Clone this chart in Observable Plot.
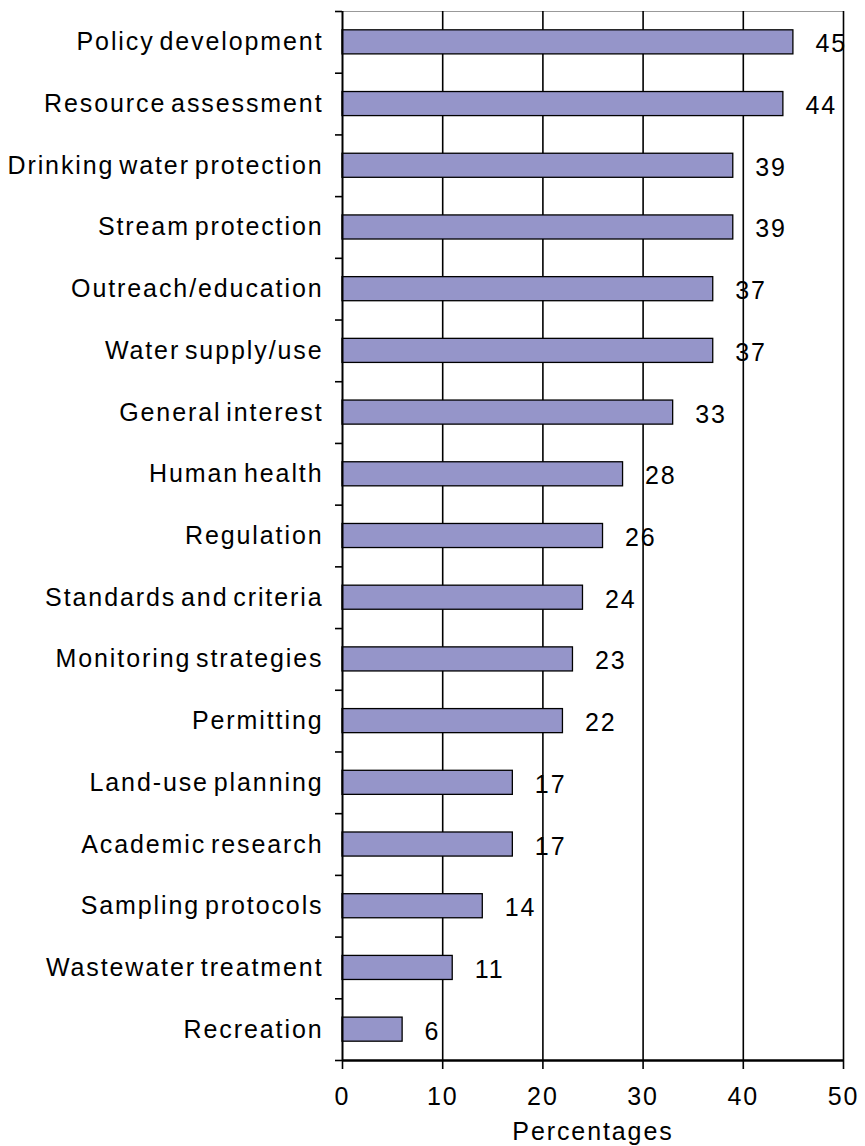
<!DOCTYPE html>
<html><head><meta charset="utf-8">
<script src="https://cdn.jsdelivr.net/npm/d3@7"></script>
<script src="https://cdn.jsdelivr.net/npm/@observablehq/plot@0.6"></script>
<style>html,body{margin:0;padding:0;background:#fff} svg{display:block} svg text{word-spacing:-4px}</style>
</head><body><div id="chart"></div>
<script>
const categories = [
  "Policy development",
  "Resource assessment",
  "Drinking water protection",
  "Stream protection",
  "Outreach/education",
  "Water supply/use",
  "General interest",
  "Human health",
  "Regulation",
  "Standards and criteria",
  "Monitoring strategies",
  "Permitting",
  "Land-use planning",
  "Academic research",
  "Sampling protocols",
  "Wastewater treatment",
  "Recreation"
];
const values = [45, 44, 39, 39, 37, 37, 33, 28, 26, 24, 23, 22, 17, 17, 14, 11, 6];
const xTicks = [0, 10, 20, 30, 40, 50];
const xLabel = "Percentages";

const data = categories.map((c, i) => ({category: c, value: values[i], i}));
const n = categories.length;
const boundaries = d3.range(n + 1);
const barPad = 0.305;

const plot = Plot.plot({
  width: 865,
  height: 1146,
  marginLeft: 342,
  marginRight: 22,
  marginTop: 11,
  marginBottom: 86,
  style: {fontFamily: "'Liberation Sans', Arial, sans-serif", fontSize: "25px", letterSpacing: "1.9px", background: "#fff", color: "#000"},
  x: {domain: [0, 50], ticks: xTicks},
  y: {domain: [0, n], reverse: true},
  marks: [
    Plot.ruleY([0], {stroke: "#999", strokeWidth: 1.2}),
    Plot.gridX(xTicks.slice(1), {stroke: "#000", strokeOpacity: 1, strokeWidth: 1.6}),
    Plot.rectX(data, {x1: 0, x2: "value", y1: d => d.i + barPad, y2: d => d.i + 1 - barPad, fill: "#9595C9", stroke: "#000", strokeWidth: 1.3}),
    Plot.text(data, {x: "value", y: d => d.i + 0.5, text: d => String(d.value), textAnchor: "start", dx: 22, dy: 2, fontSize: 25}),
    Plot.ruleX([0], {stroke: "#000", strokeWidth: 2}),
    Plot.ruleY([n], {stroke: "#000", strokeWidth: 2.6}),
    Plot.axisY(boundaries, {tickSize: 7, tickFormat: () => "", label: null, strokeWidth: 1.6}),
    Plot.axisY(data.map(d => d.i + 0.5), {tickSize: 0, tickPadding: 19, tickFormat: v => categories[Math.floor(v)], label: null, fontSize: 25}),
    Plot.axisX(xTicks, {tickSize: 9, tickPadding: 18, strokeWidth: 1.6, fontSize: 25, label: xLabel, labelAnchor: "center", labelArrow: "none", labelOffset: 79})
  ]
});
document.getElementById("chart").appendChild(plot);
</script>
</body></html>
